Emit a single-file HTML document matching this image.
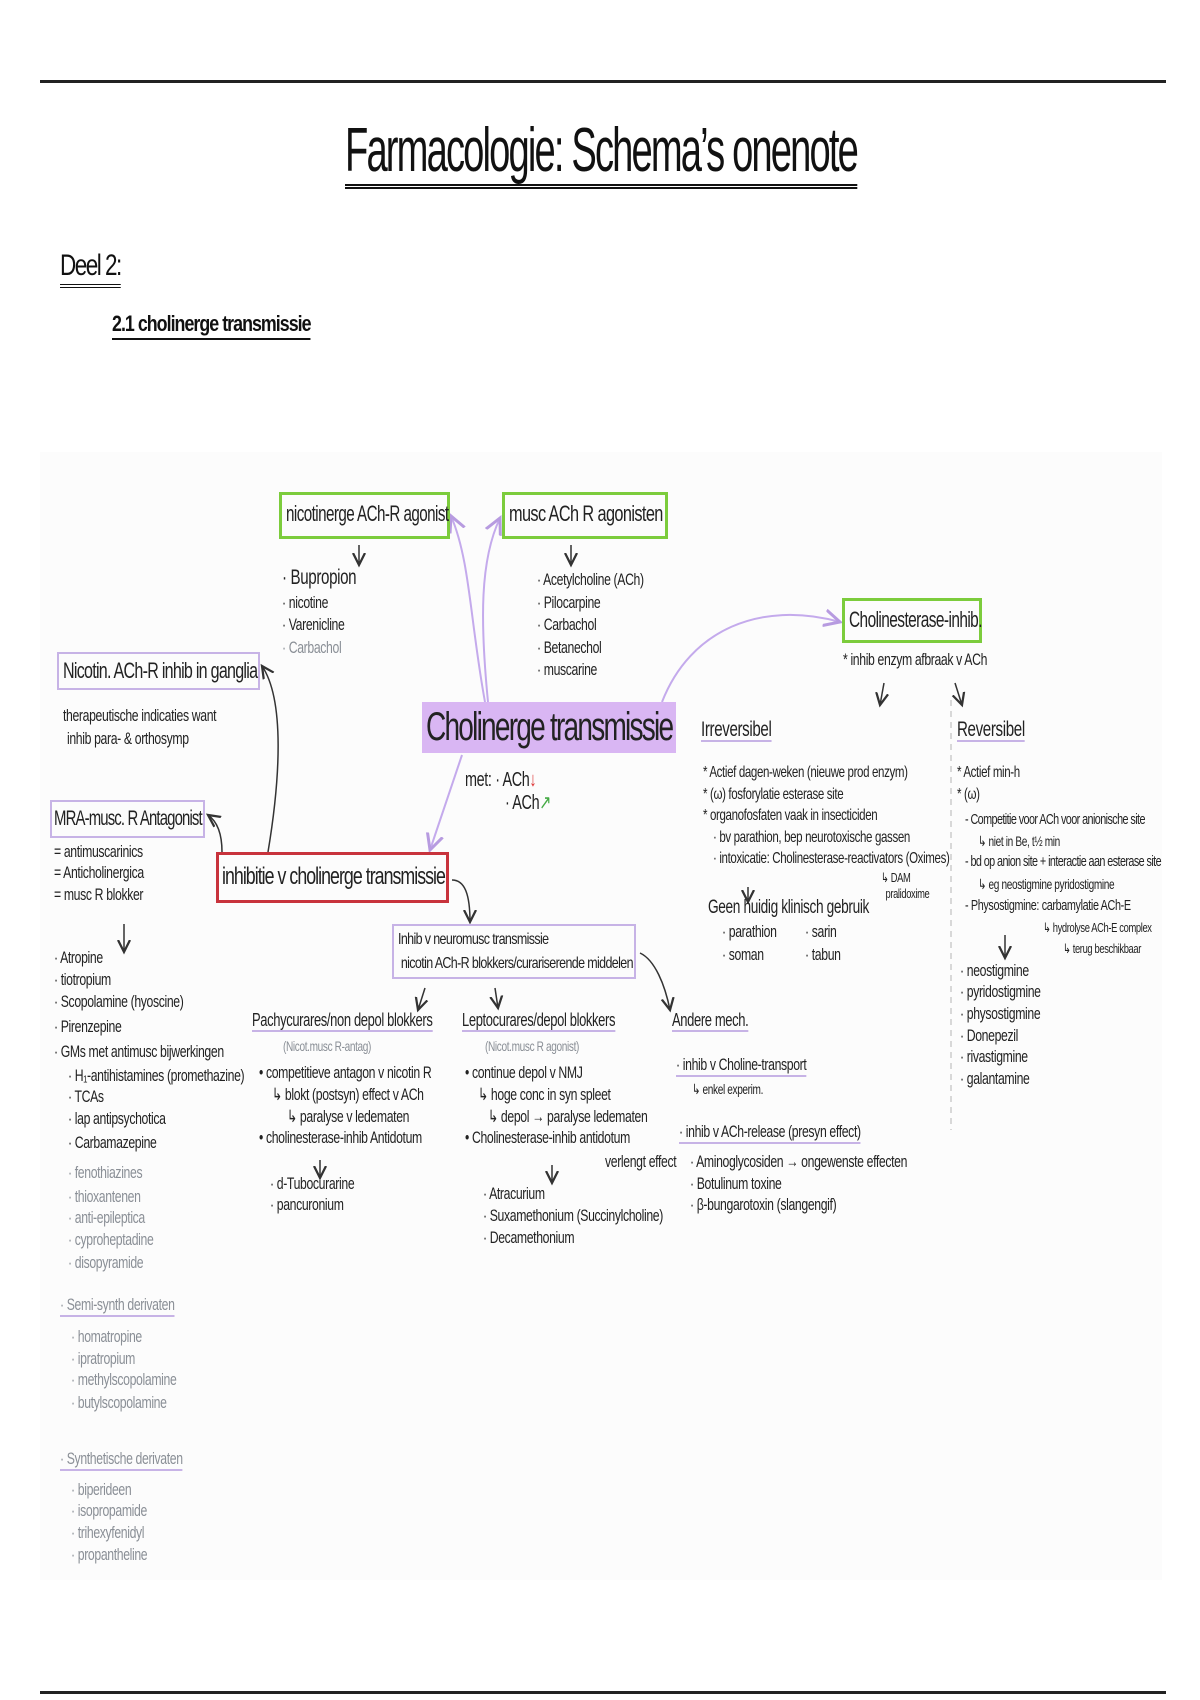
<!DOCTYPE html>
<html><head><meta charset="utf-8"><style>
html,body{margin:0;padding:0;background:#fff;}
body{width:1200px;height:1700px;position:relative;overflow:hidden;font-family:"Liberation Sans",sans-serif;color:#222;}
.t{position:absolute;white-space:nowrap;font-size:17px;line-height:20px;letter-spacing:-0.5px;transform:scaleX(0.72);transform-origin:0 0;}
.g{color:#8a8f96;}
.box{position:absolute;box-sizing:border-box;white-space:nowrap;overflow:visible;}
.s{display:inline-block;transform-origin:0 50%;}
.gr{border:3px solid #7ccc3c;font-size:22px;line-height:38px;padding-left:4px;letter-spacing:-0.8px;}
.pu{border:2px solid #c7b3e6;}
.ul{border-bottom:2px solid #c7b3e6;}
</style></head><body>
<div style="position:absolute;left:40px;top:80px;width:1126px;height:3px;background:#222"></div>
<div class="t" style="left:345px;top:118px;font-size:62px;line-height:66px;letter-spacing:-3px;color:#111;transform:scaleX(0.615);border-bottom:5px double #111;">Farmacologie: Schema’s onenote</div>
<div class="t" style="left:60px;top:248px;font-size:30px;line-height:36px;letter-spacing:-2px;color:#111;transform:scaleX(0.75);border-bottom:4px double #111;">Deel 2:</div>
<div class="t" style="left:112px;top:310px;font-size:22px;line-height:28px;font-weight:bold;letter-spacing:-1.2px;color:#111;transform:scaleX(0.81);border-bottom:2px solid #111;">2.1 cholinerge transmissie</div>
<div style="position:absolute;left:40px;top:452px;width:1122px;height:1128px;background:#fcfcfc"></div>

<svg style="position:absolute;left:0;top:0" width="1200" height="1700">
<defs>
<marker id="ap" markerWidth="10" markerHeight="10" refX="8" refY="5" orient="auto"><path d="M0,1 L8,5 L0,9" fill="none" stroke="#b79be0" stroke-width="1.5"/></marker>
<marker id="ab" markerWidth="10" markerHeight="10" refX="8" refY="5" orient="auto"><path d="M0,1 L8,5 L0,9" fill="none" stroke="#333" stroke-width="1.5"/></marker>
</defs>
<g fill="none" stroke="#c4aaec" stroke-width="2">
<path d="M485,702 C470,620 470,560 451,516" marker-end="url(#ap)"/>
<path d="M488,702 C480,620 480,560 500,518" marker-end="url(#ap)"/>
<path d="M662,702 C690,630 760,600 840,622" marker-end="url(#ap)"/>
<path d="M462,755 C450,790 440,820 430,850" marker-end="url(#ap)"/>
</g>
<g fill="none" stroke="#333" stroke-width="1.5">
<path d="M268,852 C280,780 285,700 262,666" marker-end="url(#ab)"/>
<path d="M222,852 C222,835 218,822 208,815" marker-end="url(#ab)"/>
<path d="M452,880 C465,880 470,895 470,922" marker-end="url(#ab)"/>
<path d="M359,545 L359,565" marker-end="url(#ab)"/>
<path d="M571,545 L571,565" marker-end="url(#ab)"/>
<path d="M124,924 L124,952" marker-end="url(#ab)"/>
<path d="M425,988 L418,1010" marker-end="url(#ab)"/>
<path d="M495,988 L498,1008" marker-end="url(#ab)"/>
<path d="M640,953 C655,960 665,985 670,1010" marker-end="url(#ab)"/>
<path d="M320,1160 L320,1178" marker-end="url(#ab)"/>
<path d="M552,1165 L552,1183" marker-end="url(#ab)"/>
<path d="M884,683 L880,705" marker-end="url(#ab)"/>
<path d="M955,683 L962,705" marker-end="url(#ab)"/>
<path d="M748,887 L748,902" marker-end="url(#ab)"/>
<path d="M1005,935 L1005,958" marker-end="url(#ab)"/>
</g>
<path d="M951,700 L951,1130" stroke="#ccc" stroke-width="1.5" stroke-dasharray="6,5"/>
</svg>

<div class="box gr" style="left:279px;top:492px;width:171px;height:47px;"><span class="s" style="transform:scaleX(.69)">nicotinerge ACh-R agonist</span></div>
<div class="box gr" style="left:502px;top:492px;width:166px;height:47px;"><span class="s" style="transform:scaleX(.74)">musc ACh R agonisten</span></div>
<div class="box gr" style="left:842px;top:598px;width:140px;height:45px;"><span class="s" style="transform:scaleX(.7)">Cholinesterase-inhib.</span></div>
<div class="box" style="left:422px;top:702px;width:254px;height:51px;background:#d9b6f3;font-size:40px;line-height:50px;letter-spacing:-2.5px;padding-left:4px;"><span class="s" style="transform:scaleX(.7)">Cholinerge transmissie</span></div>
<div class="box" style="left:216px;top:852px;width:233px;height:51px;border:3px solid #c8333c;font-size:24px;line-height:44px;letter-spacing:-1.3px;padding-left:3px;"><span class="s" style="transform:scaleX(.74)">inhibitie v cholinerge transmissie</span></div>
<div class="box pu" style="left:57px;top:652px;width:203px;height:38px;font-size:22px;line-height:34px;letter-spacing:-1px;padding-left:4px;"><span class="s" style="transform:scaleX(.73)">Nicotin. ACh-R inhib in ganglia</span></div>
<div class="box pu" style="left:50px;top:800px;width:155px;height:38px;font-size:21px;line-height:34px;letter-spacing:-1.2px;padding-left:2px;"><span class="s" style="transform:scaleX(.71)">MRA-musc. R Antagonist</span></div>
<div class="box pu" style="left:392px;top:924px;width:244px;height:55px;font-size:16px;line-height:24px;letter-spacing:-0.8px;padding:2px 4px;"><span class="s" style="transform:scaleX(.78)">Inhib v neuromusc transmissie<br>&nbsp;nicotin ACh-R blokkers/curariserende middelen</span></div>

<div class="t" style="left:282px;top:568px;font-size:21px;">· Bupropion</div>
<div class="t" style="left:282px;top:593px;">· nicotine</div>
<div class="t" style="left:282px;top:615px;">· Varenicline</div>
<div class="t g" style="left:282px;top:638px;">· Carbachol</div>
<div class="t" style="left:537px;top:570px;">· Acetylcholine (ACh)</div>
<div class="t" style="left:537px;top:593px;">· Pilocarpine</div>
<div class="t" style="left:537px;top:615px;">· Carbachol</div>
<div class="t" style="left:537px;top:638px;">· Betanechol</div>
<div class="t" style="left:537px;top:660px;">· muscarine</div>

<div class="t" style="left:63px;top:706px;">therapeutische indicaties want</div>
<div class="t" style="left:67px;top:729px;">inhib para- &amp; orthosymp</div>
<div class="t" style="left:465px;top:770px;font-size:20px;">met: · ACh<span style="color:#d33">↓</span></div>
<div class="t" style="left:505px;top:793px;font-size:20px;">· ACh<span style="color:#4a4">↗</span></div>

<div class="t" style="left:54px;top:842px;">= antimuscarinics</div>
<div class="t" style="left:54px;top:863px;">= Anticholinergica</div>
<div class="t" style="left:54px;top:885px;">= musc R blokker</div>
<div class="t" style="left:54px;top:948px;">· Atropine</div>
<div class="t" style="left:54px;top:970px;">· tiotropium</div>
<div class="t" style="left:54px;top:992px;">· Scopolamine (hyoscine)</div>
<div class="t" style="left:54px;top:1017px;">· Pirenzepine</div>
<div class="t" style="left:54px;top:1042px;">· GMs met antimusc bijwerkingen</div>
<div class="t" style="left:68px;top:1066px;">· H₁-antihistamines (promethazine)</div>
<div class="t" style="left:68px;top:1087px;">· TCAs</div>
<div class="t" style="left:68px;top:1109px;">· lap antipsychotica</div>
<div class="t" style="left:68px;top:1133px;">· Carbamazepine</div>
<div class="t g" style="left:68px;top:1163px;">· fenothiazines</div>
<div class="t g" style="left:68px;top:1187px;">· thioxantenen</div>
<div class="t g" style="left:68px;top:1208px;">· anti-epileptica</div>
<div class="t g" style="left:68px;top:1230px;">· cyproheptadine</div>
<div class="t g" style="left:68px;top:1253px;">· disopyramide</div>
<div class="t g ul" style="left:60px;top:1295px;">· Semi-synth derivaten</div>
<div class="t g" style="left:71px;top:1327px;">· homatropine</div>
<div class="t g" style="left:71px;top:1349px;">· ipratropium</div>
<div class="t g" style="left:71px;top:1370px;">· methylscopolamine</div>
<div class="t g" style="left:71px;top:1393px;">· butylscopolamine</div>
<div class="t g ul" style="left:60px;top:1449px;">· Synthetische derivaten</div>
<div class="t g" style="left:71px;top:1480px;">· biperideen</div>
<div class="t g" style="left:71px;top:1501px;">· isopropamide</div>
<div class="t g" style="left:71px;top:1523px;">· trihexyfenidyl</div>
<div class="t g" style="left:71px;top:1545px;">· propantheline</div>

<div class="t ul" style="left:252px;top:1010px;font-size:18px;">Pachycurares/non depol blokkers</div>
<div class="t g" style="left:283px;top:1036px;font-size:14px;">(Nicot.musc R-antag)</div>
<div class="t" style="left:259px;top:1063px;">• competitieve antagon v nicotin R</div>
<div class="t" style="left:272px;top:1085px;">↳ blokt (postsyn) effect v ACh</div>
<div class="t" style="left:287px;top:1107px;">↳ paralyse v ledematen</div>
<div class="t" style="left:259px;top:1128px;">• cholinesterase-inhib Antidotum</div>
<div class="t" style="left:270px;top:1174px;">· d-Tubocurarine</div>
<div class="t" style="left:270px;top:1195px;">· pancuronium</div>

<div class="t ul" style="left:462px;top:1010px;font-size:18px;">Leptocurares/depol blokkers</div>
<div class="t g" style="left:485px;top:1036px;font-size:14px;">(Nicot.musc R agonist)</div>
<div class="t" style="left:465px;top:1063px;">• continue depol v NMJ</div>
<div class="t" style="left:478px;top:1085px;">↳ hoge conc in syn spleet</div>
<div class="t" style="left:488px;top:1107px;">↳ depol → paralyse ledematen</div>
<div class="t" style="left:465px;top:1128px;">• Cholinesterase-inhib antidotum</div>
<div class="t" style="left:605px;top:1152px;">verlengt effect</div>
<div class="t" style="left:483px;top:1184px;">· Atracurium</div>
<div class="t" style="left:483px;top:1206px;">· Suxamethonium (Succinylcholine)</div>
<div class="t" style="left:483px;top:1228px;">· Decamethonium</div>

<div class="t ul" style="left:672px;top:1010px;font-size:18px;">Andere mech.</div>
<div class="t ul" style="left:676px;top:1055px;">· inhib v Choline-transport</div>
<div class="t" style="left:692px;top:1079px;font-size:14px;">↳ enkel experim.</div>
<div class="t ul" style="left:679px;top:1122px;">· inhib v ACh-release (presyn effect)</div>
<div class="t" style="left:690px;top:1152px;">· Aminoglycosiden → ongewenste effecten</div>
<div class="t" style="left:690px;top:1174px;">· Botulinum toxine</div>
<div class="t" style="left:690px;top:1195px;">· β-bungarotoxin (slangengif)</div>

<div class="t" style="left:843px;top:650px;">* inhib enzym afbraak v ACh</div>
<div class="t ul" style="left:701px;top:720px;font-size:21px;">Irreversibel</div>
<div class="t" style="left:703px;top:763px;font-size:16px;">* Actief dagen-weken (nieuwe prod enzym)</div>
<div class="t" style="left:703px;top:785px;font-size:16px;">* (ω) fosforylatie esterase site</div>
<div class="t" style="left:703px;top:806px;font-size:16px;">* organofosfaten vaak in insecticiden</div>
<div class="t" style="left:713px;top:828px;font-size:16px;">· bv parathion, bep neurotoxische gassen</div>
<div class="t" style="left:713px;top:849px;font-size:16px;">· intoxicatie: Cholinesterase-reactivators (Oximes)</div>
<div class="t" style="left:881px;top:870px;font-size:13px;line-height:16px;">↳ DAM<br>&nbsp;&nbsp;pralidoxime</div>
<div class="t" style="left:708px;top:898px;font-size:19px;">Geen huidig klinisch gebruik</div>
<div class="t" style="left:722px;top:922px;">· parathion</div>
<div class="t" style="left:805px;top:922px;">· sarin</div>
<div class="t" style="left:722px;top:945px;">· soman</div>
<div class="t" style="left:805px;top:945px;">· tabun</div>

<div class="t ul" style="left:957px;top:720px;font-size:21px;">Reversibel</div>
<div class="t" style="left:957px;top:763px;font-size:16px;">* Actief min-h</div>
<div class="t" style="left:957px;top:785px;font-size:16px;">* (ω)</div>
<div class="t" style="left:965px;top:810px;font-size:15px;letter-spacing:-0.8px;">- Competitie voor ACh voor anionische site</div>
<div class="t" style="left:978px;top:831px;font-size:14px;">↳ niet in Be, t½ min</div>
<div class="t" style="left:965px;top:852px;font-size:15px;letter-spacing:-0.8px;">- bd op anion site + interactie aan esterase site</div>
<div class="t" style="left:978px;top:874px;font-size:14px;">↳ eg neostigmine pyridostigmine</div>
<div class="t" style="left:965px;top:896px;font-size:15px;">- Physostigmine: carbamylatie ACh-E</div>
<div class="t" style="left:1043px;top:918px;font-size:13px;">↳ hydrolyse ACh-E complex</div>
<div class="t" style="left:1063px;top:939px;font-size:13px;">↳ terug beschikbaar</div>
<div class="t" style="left:960px;top:961px;">· neostigmine</div>
<div class="t" style="left:960px;top:982px;">· pyridostigmine</div>
<div class="t" style="left:960px;top:1004px;">· physostigmine</div>
<div class="t" style="left:960px;top:1026px;">· Donepezil</div>
<div class="t" style="left:960px;top:1047px;">· rivastigmine</div>
<div class="t" style="left:960px;top:1069px;">· galantamine</div>

<div style="position:absolute;left:40px;top:1691px;width:1126px;height:3px;background:#222"></div>
</body></html>
